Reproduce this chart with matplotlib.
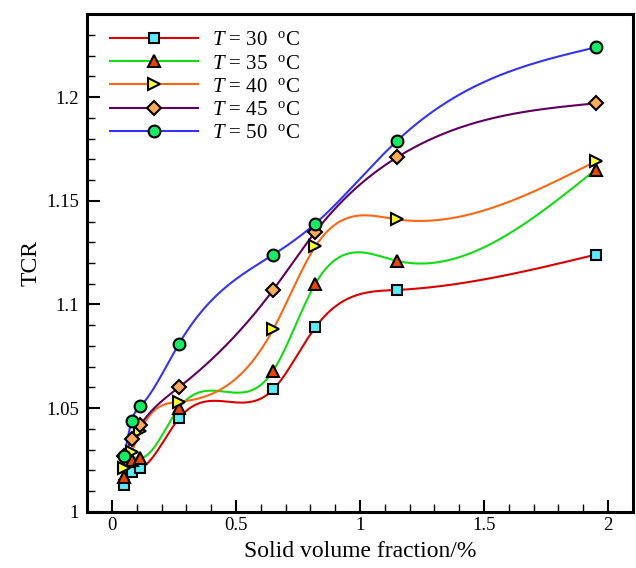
import numpy as np
import matplotlib
matplotlib.use('Agg')
import matplotlib.pyplot as plt
from matplotlib.ticker import MultipleLocator

plt.rcParams['font.family'] = 'Liberation Serif'
plt.rcParams['mathtext.fontset'] = 'custom'
plt.rcParams['mathtext.rm'] = 'Liberation Serif'
plt.rcParams['mathtext.it'] = 'Liberation Serif:italic'

# solid volume fraction (%)
fraction = [0.05, 0.08, 0.115, 0.27, 0.65, 0.82, 1.15, 1.95]

tcr_30 = [1.013, 1.019, 1.021, 1.045, 1.059, 1.089, 1.107, 1.124]
tcr_35 = [1.017, 1.025, 1.026, 1.050, 1.068, 1.110, 1.121, 1.165]
tcr_40 = [1.021, 1.029, 1.039, 1.053, 1.088, 1.128, 1.141, 1.169]
tcr_45 = [1.027, 1.035, 1.042, 1.060, 1.107, 1.135, 1.171, 1.197]
tcr_50 = [1.027, 1.044, 1.051, 1.081, 1.124, 1.139, 1.179, 1.224]

labels = ['30', '35', '40', '45', '50']


def natural_spline(x, y, n=400):
    x = np.asarray(x, float)
    y = np.asarray(y, float)
    k = len(x)
    h = np.diff(x)
    A = np.zeros((k, k))
    b = np.zeros(k)
    A[0, 0] = 1
    A[-1, -1] = 1
    for i in range(1, k - 1):
        A[i, i - 1] = h[i - 1]
        A[i, i] = 2 * (h[i - 1] + h[i])
        A[i, i + 1] = h[i]
        b[i] = 3 * ((y[i + 1] - y[i]) / h[i] - (y[i] - y[i - 1]) / h[i - 1])
    c = np.linalg.solve(A, b)
    xs = np.linspace(x[0], x[-1], n)
    ys = np.zeros(n)
    for j, xv in enumerate(xs):
        i = min(np.searchsorted(x, xv, side='right') - 1, k - 2)
        d = xv - x[i]
        bi = (y[i + 1] - y[i]) / h[i] - h[i] * (2 * c[i] + c[i + 1]) / 3
        di = (c[i + 1] - c[i]) / (3 * h[i])
        ys[j] = y[i] + bi * d + c[i] * d ** 2 + di * d ** 3
    return xs, ys


series = [tcr_30, tcr_35, tcr_40, tcr_45, tcr_50]
line_colors = ['#dd0000', '#11dd11', '#ff6611', '#600060', '#3333ff']
face_colors = ['#55eeff', '#ee4400', '#ffff22', '#ffaa55', '#11ee66']
markers = ['s', '^', '>', 'D', 'o']
msizes = [7.5, 8.5, 8.5, 7.5, 8.5]

fig = plt.figure(figsize=(6.36, 5.68), dpi=100)
ax = fig.add_axes([0.137, 0.099, 0.858, 0.876])

for vals, lc, fc, m, ms, lab in zip(series, line_colors, face_colors, markers, msizes, labels):
    xs, ys = natural_spline(fraction, vals)
    ax.plot(xs, ys, color=lc, lw=1.5, zorder=2)
    ax.plot(fraction, vals, ls='none', marker=m, ms=ms, mfc=fc, mec='black', mew=1.5, zorder=3)
    ax.plot([], [], color=lc, lw=1.5, marker=m, ms=ms, mfc=fc, mec='black', mew=1.5,
            label=r'$T$ = ' + lab + r'  $^{\rm o}$C')

ax.set_xlim(-0.1, 2.1)
ax.set_ylim(1.0, 1.24)
ax.xaxis.set_minor_locator(MultipleLocator(0.1))
ax.yaxis.set_minor_locator(MultipleLocator(0.01))
ax.set_xticks([0, 0.5, 1, 1.5, 2])
ax.set_xticklabels(['0', '0.5', '1', '1.5', '2'])
ax.set_yticks([1, 1.05, 1.1, 1.15, 1.2])
ax.set_yticklabels(['1', '1.05', '1.1', '1.15', '1.2'])
ax.tick_params(which='both', direction='in', labelsize=13.5, width=1.5)
ax.tick_params(which='major', length=9)
ax.tick_params(which='minor', length=5.5, width=1)
ax.tick_params(axis='x', pad=4)
ax.tick_params(axis='y', pad=6)
for sp in ax.spines.values():
    sp.set_linewidth(2.2)

ax.set_xlabel('Solid volume fraction/%', fontsize=17, labelpad=5)
ax.set_ylabel('TCR', fontsize=17, labelpad=3)

ax.legend(loc='upper left', bbox_to_anchor=(0.012, 1.0), frameon=False, fontsize=15,
          handlelength=4.2, handletextpad=0.7, labelspacing=0.17, borderaxespad=0.4)

fig.savefig('out.png', dpi=100)
